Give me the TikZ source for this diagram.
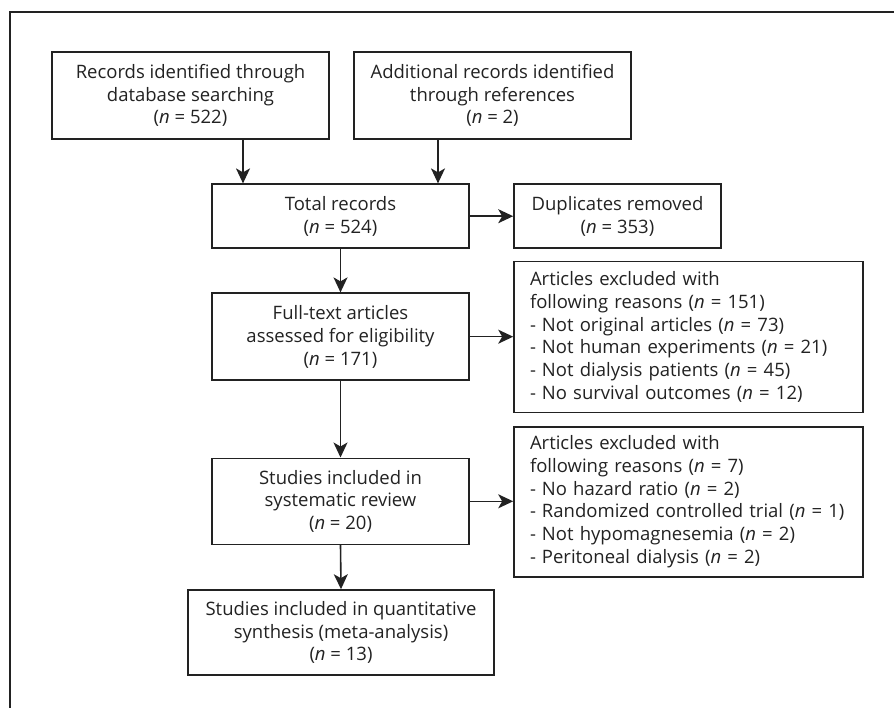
\documentclass[tikz,border=0pt]{standalone}
\usepackage{fontspec}
\setmainfont{Open Sans}
\usetikzlibrary{arrows.meta}
\definecolor{ink}{HTML}{222222}
\newcommand{\itm}[1]{\mbox{-\hspace{6pt}#1}}
\begin{document}
\begin{tikzpicture}[x=1pt,y=-1pt,
 box/.style={draw=ink, line width=1.6pt, text=ink, align=center, inner sep=0pt, font=\fontsize{18.5}{22.8}\selectfont},
 exbox/.style={box, align=left, text width=317pt, inner xsep=16pt},
 arr/.style={draw=ink, line width=1.6pt, -{Stealth[length=15pt,width=14pt,inset=4pt]}},
 frame/.style={draw=ink, line width=1.6pt}]
\useasboundingbox (0,0) rectangle (894,708);
\draw[frame] (10,708) -- (10,12) -- (894,12);

\node[box, minimum width=277pt, minimum height=87pt] (b1) at (190.5,95.5) {Records identified through\\database searching\\(\textit{n} = 522)};
\node[box, minimum width=277pt, minimum height=87pt] (b2) at (492.5,95.5) {Additional records identified\\through references\\(\textit{n} = 2)};
\node[box, minimum width=257pt, minimum height=64pt] (tot) at (340.5,216.2) {Total records\\(\textit{n} = 524)};
\node[box, minimum width=207pt, minimum height=64pt] (dup) at (617.5,216.2) {Duplicates removed\\(\textit{n} = 353)};
\node[box, minimum width=257pt, minimum height=87pt] (ft) at (340.5,336.7) {Full-text articles\\assessed for eligibility\\(\textit{n} = 171)};
\node[exbox, minimum height=151pt] (ex1) at (688.5,337) {Articles excluded with\\\mbox{following reasons (\textit{n} = 151)}\\\itm{Not original articles (\textit{n} = 73)}\\\itm{Not human experiments (\textit{n} = 21)}\\\itm{Not dialysis patients (\textit{n} = 45)}\\\itm{No survival outcomes (\textit{n} = 12)}};
\node[box, minimum width=257pt, minimum height=86pt] (sr) at (340.5,501.3) {Studies included in\\systematic review\\(\textit{n} = 20)};
\node[exbox, minimum height=150pt] (ex2) at (688.5,501.7) {Articles excluded with\\\mbox{following reasons (\textit{n} = 7)}\\\itm{No hazard ratio (\textit{n} = 2)}\\\itm{Randomized controlled trial (\textit{n} = 1)}\\\itm{Not hypomagnesemia (\textit{n} = 2)}\\\itm{Peritoneal dialysis (\textit{n} = 2)}};
\node[box, minimum width=306pt, minimum height=85pt] (fin) at (341,632.5) {Studies included in quantitative\\synthesis (meta-analysis)\\(\textit{n} = 13)};

\coordinate (a1) at (243,0);
\coordinate (a2) at (438,0);
\draw[arr] (b1.south -| a1) -- (tot.north -| a1);
\draw[arr] (b2.south -| a2) -- (tot.north -| a2);
\draw[arr] (tot.east) -- (dup.west);
\draw[arr] (tot.south) -- (ft.north);
\draw[arr] (ft.east) -- (ex1.west |- ft.east);
\draw[arr] (ft.south) -- (sr.north);
\draw[arr] (sr.east) -- (ex2.west |- sr.east);
\draw[arr] (sr.south) -- (fin.north);
\end{tikzpicture}
\end{document}
